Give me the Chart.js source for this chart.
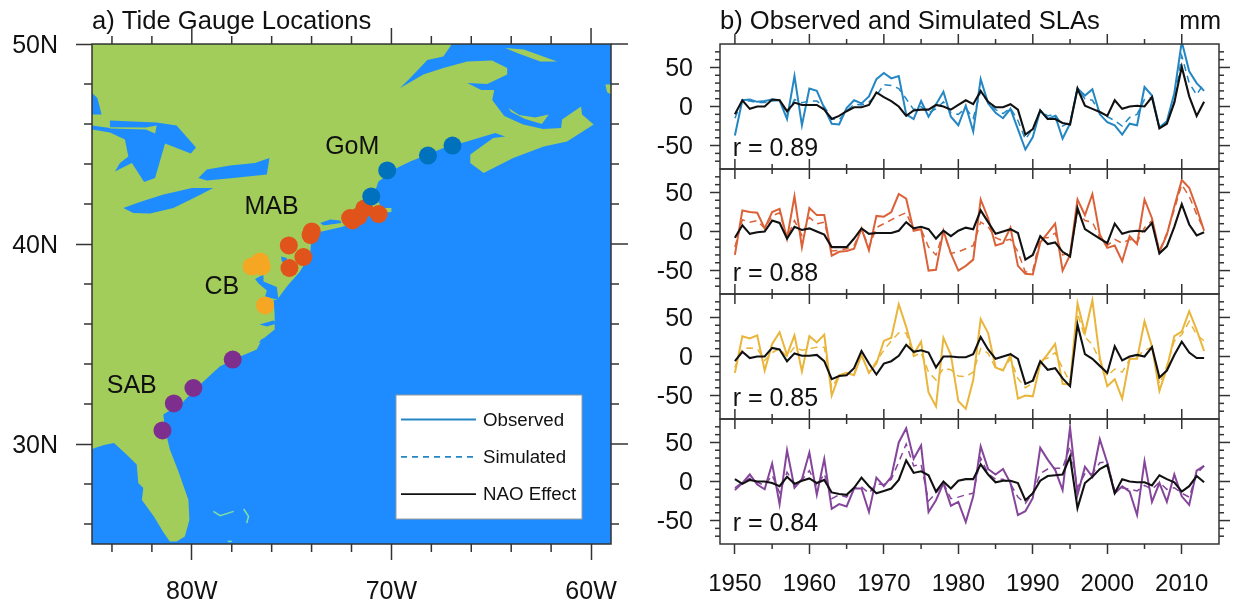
<!DOCTYPE html>
<html>
<head>
<meta charset="utf-8">
<title>Tide gauges and SLAs</title>
<script src="https://cdn.jsdelivr.net/npm/chart.js@4"></script>
<style>
    html, body { margin: 0; background: #fff; }
    canvas { position: absolute; top: 0; }
    #mapChart { left: 0; }
    #slaChart { left: 640px; }
</style>
</head>
<body>
<canvas id="mapChart" width="640" height="604"></canvas>
<canvas id="slaChart" width="593" height="604"></canvas>
<script>
// map outlines, [lon, lat]
const landCoast = [[-85,29.75],[-84.4,29.95],[-83.9,30.05],[-83.35,29.55],[-82.76,28.97],[-82.68,28.05],[-82.43,27.8],[-82.5,27.2],[-81.9,26.38],[-81.4,25.55],[-81.1,25.13],[-80.76,25.13],[-80.35,25.38],[-80.12,26.2],[-80.17,27.2],[-80.67,28.63],[-81.1,29.72],[-81.34,30.72],[-81.43,31.47],[-80.5,32.05],[-79.42,33.13],[-78.6,33.88],[-77.58,34.38],[-76.75,34.72],[-76.5,35.2],[-75.85,35.72],[-75.85,36.47],[-75.9,37.2],[-75.74,37.2],[-75.24,37.88],[-74.6,38.6],[-74.07,39.45],[-74,40.5],[-73.6,40.6],[-72.5,40.85],[-71.9,41.05],[-71,41.45],[-70.6,41.55],[-70,41.6],[-70,41.8],[-70.5,41.8],[-70.7,42.2],[-70.8,42.7],[-70.65,43.13],[-69.73,43.8],[-69.06,44.13],[-67.39,44.8],[-66.22,45.13],[-64.8,45.55],[-64.3,45.38],[-64.9,45.3],[-66.05,44.47],[-66.05,44.05],[-65.38,43.55],[-63.9,44.3],[-62.37,44.87],[-61.2,45.13],[-59.87,45.97],[-60.45,46.47],[-60.5,46.88],[-61.45,46.22],[-61.5,45.8],[-62.4,45.75],[-63.4,45.97],[-64.35,46.4],[-64.95,47.2],[-64.85,47.7],[-65.5,47.7],[-66.2,48.05],[-65.2,48],[-64.2,48.47],[-64.2,48.8],[-64.96,49.18],[-66.2,49.13],[-67.4,48.8],[-68.4,48.47],[-69.56,47.8],[-71.06,46.85],[-70.4,46.97],[-69.06,48.3],[-68.2,49.2],[-67.4,49.38],[-66.97,50],[-85,50]];
const islands = [
    [[-84.1,45.84],[-82.3,45.82],[-81.76,45.92],[-81.84,45.52],[-82.3,45.72],[-84.1,45.78]],
    [[-64.13,46.8],[-63.6,46.45],[-62.8,46.32],[-62.12,46.47],[-62.46,46],[-63.3,46.25],[-64,46.6]],
    [[-64.3,49.8],[-63.37,49.72],[-61.7,49.13],[-62.54,49.13],[-63.7,49.55]],
    [[-59.28,47.97],[-59,47.97],[-59,47.47],[-59.2,47.6]],
    [[-73.55,40.75],[-72.4,40.95],[-72.3,41.05],[-73.5,40.9]]
];
const waters = [
    [[-85,47.55],[-84.73,47.3],[-84.52,46.47],[-85,46.47]],
    [[-84.1,46.18],[-81.76,46.08],[-80.76,45.92],[-79.79,44.83],[-80.05,44.52],[-81.34,45.02],[-81.84,43.3],[-82.39,43.1],[-83,44.05],[-83.85,43.63],[-83.6,44.05],[-83.18,44.38],[-83.35,45.22],[-84.1,45.58],[-85,45.72],[-85,45.92],[-84.1,45.8]],
    [[-83.43,41.8],[-82.6,42.1],[-81.42,42.47],[-80.75,42.63],[-80,42.8],[-78.92,42.8],[-79.75,42.38],[-80.92,41.8],[-82.09,41.52],[-82.93,41.55]],
    [[-79.67,43.3],[-79.25,43.72],[-78.08,43.92],[-76.83,44.05],[-76.11,44.3],[-76.24,43.47],[-77.92,43.3],[-79.25,43.18]],
    [[-76.83,38.25],[-76.41,38.47],[-76.41,38.13],[-75.74,37.85],[-75.66,37.2],[-76.33,37.38],[-76.24,37.68],[-76.66,38.03]],
    [[-75.53,39.38],[-75.24,39.3],[-75.24,39.05],[-75.49,39.13]],
    [[-76.61,35.97],[-75.91,36.18],[-75.74,36.02],[-76.24,35.88]],
    [[-76.66,35.05],[-75.99,35.35],[-76.5,35.25]],
    [[-73.57,41.05],[-73.07,41.22],[-72.57,41.18],[-72.5,41.05],[-73.4,40.93]]
];
const bahamas = [
    [[-78.92,26.63],[-78.58,26.42],[-77.9,26.63]],
    [[-77.4,26.75],[-77.16,26.38],[-77.25,26.05]],
    [[-78.2,25.13],[-78,25.13]]
];

// tide gauges
const gaugesGoM = [[-66.94,44.92],[-68.17,44.42],[-70.21,43.68],[-71.01,42.38]];
const gaugesMAB = [[-70.64,41.5],[-71.36,41.77],[-71.95,41.18],[-72.07,41.3],[-71.65,41.38],[-73.99,40.63],[-74.05,40.45],[-75.14,39.93],[-74.41,39.35],[-75.11,38.8]];
const gaugesCB = [[-76.58,39.13],[-77,38.88],[-76.5,38.88],[-76.33,36.93]];
const gaugesSAB = [[-77.95,34.22],[-79.92,32.8],[-80.9,32.03],[-81.47,30.68]];
const regionLabels = [['GoM',-73.32,44.97],['MAB',-77.36,41.97],['CB',-79.37,37.97],['SAB',-84.26,32.97]];

const lonMajor = [-80, -70, -60];
const lonMinor = [-84, -82, -78, -76, -74, -72, -68, -66, -64, -62];
const latMajor = [30, 40, 50];
const latMinor = [26, 28, 32, 34, 36, 38, 42, 44, 46, 48];

// SLA series, mm
const years = [1950,1951,1952,1953,1954,1955,1956,1957,1958,1959,1960,1961,1962,1963,1964,1965,1966,1967,1968,1969,1970,1971,1972,1973,1974,1975,1976,1977,1978,1979,1980,1981,1982,1983,1984,1985,1986,1987,1988,1989,1990,1991,1992,1993,1994,1995,1996,1997,1998,1999,2000,2001,2002,2003,2004,2005,2006,2007,2008,2009,2010,2011,2012,2013];

const obsGoM = [-37,8,9,6,7,9,8,-16,39,-24,23,20,-2,-22,-23,-2,8,4,13,35,43,36,39,-10,-16,7,-13,2.5,19,-13,-24,1,-32,35,4,-8,-15,-3,-29,-55,-39,-5,-16,-12,-41,-22,23,14,22,-10,-20,-24,-36,-22,-24,25,14,-27,-19,17,83,45,30,20];
const simGoM = [-15,7,7,5,5,7,8,-10,9,5,7,7,0,-16,-17,-6,3,2,6,14,28,27,23,10,-4,0,-8,-3,6,-8,-10,-2,-15,20,5,-4,-9,-2,-18,-42,-28,-5,-12,-10,-25,-20,22,10,8,-7,-13,-18,-25,-14,-10,9,12,-27,-19,5,65,30,15,30];
const naoGoM = [-10,8,-3,0,0,9,8,-6,5,2,2,2,-4,-16,-12,-6,-1,-1,2,18,12,7,0,-12,-5,-4,-4,2,0,-4,2,8,3,20,6,-1,-1,3,-4,-36,-29,-5,-16,-16,-21,-23,23,1,-3,-7,-12,8,-3,0,1,0,12,-28,-22,5,51,13,-12,6];

const obsMAB = [-30,27,25,24,4,25,29,-9,45,-20,30,21,21,-31,-26,-25,-22,4,-24,20,19,25,48,42,1,3,-50,-49,1,-28,-50,-44,-36,41,17,-18,-15,5,-44,-54,-55,-14,-2,10,-50,-30,41,21,48,-4,-21,-18,-38,-6,-16,41,17,-26,-4,32,66,56,30,1];
const simMAB = [-20,15,12,14,4,20,24,-8,14,-5,18,10,12,-25,-24,-22,-18,3,-20,5,10,15,20,24,2,3,-20,-30,-1,-28,-26,-22,-18,12,6,-8,-12,-10,-26,-52,-50,-8,-8,-2,-30,-28,25,14,12,-8,-18,-10,-15,-10,-14,5,14,-25,-2,28,60,45,22,2];
const naoMAB = [-8,8,-3,-1,0,14,11,-9,6,2,4,0,-4,-20,-20,-20,-9,4,-3,-2,-2,-2,1,12,4,6,3,-9,1,-6,1,5,3,27,12,-3,0,3,-2,-36,-30,-6,-16,-14,-26,-32,30,3,-3,-9,-15,10,-3,0,1,0,11,-28,-19,6,35,9,-5,-1];

const obsCB = [-21,26,23,27,-18,16,31,2,27,-19,26,18,28,-50,-24,-21,-24,2,-21,-9,20,24,67,38,3,19,-46,-64,24,2,-57,-67,-30,48,30,-14,-18,2,-54,-50,-51,-9,3,16,-35,-36,68,30,72,-2,-38,-29,-54,-3,-3,45,13,-44,-15,26,32,58,34,7];
const simCB = [-14,10,11,10,-5,5,10,0,12,8,10,12,12,-40,-24,-22,-22,2,-21,-6,8,20,30,30,0,5,-20,-30,-15,-17,-25,-26,-20,10,4,-15,-17,-3,-28,-40,-34,-5,-2,5,-15,-33,55,25,15,-5,-25,-16,-20,-4,0,8,12,-35,-12,20,28,45,28,20];
const naoCB = [-6,6,-2,0,0,11,9,-6,4,1,1,2,-6,-29,-25,-24,-15,7,-9,-23,-9,-6,1,15,6,8,5,-14,0,0,-1,-1,3,25,9,-3,0,3,-3,-35,-31,-6,-17,-15,-28,-38,41,3,-3,-12,-21,13,-5,0,2,0,12,-27,-18,2,19,5,-2,-2];

const obsSAB = [-11,-2,9,-4,-10,23,-29,40,-8,3,37,-17,29,-35,-29,-32,-9,-9,-39,5,-6,6,50,68,29,46,-39,-24,-2,-31,-26,-52,-19,45,16,9,16,-2,-43,-38,-21,43,28,15,-11,69,-17,19,6,54,24,-15,-6,-13,-43,26,-26,-2,-26,9,-19,-30,14,20];
const simSAB = [-8,-1,4,-1,-5,8,-14,12,-4,2,14,-6,10,-22,-17,-20,-8,-7,-15,-3,-4,3,25,48,20,22,-25,-15,-2,-22,-20,-17,-15,30,10,3,3,-3,-20,-28,-15,10,16,17,17,45,-8,10,10,24,25,-12,-8,-10,-12,-5,-10,-1,-10,-8,-15,-20,10,20];
const naoSAB = [3,-3,2,0,0,-2,-6,6,-3,1,4,-2,2,-14,-16,-17,-8,5,-6,-15,-12,-9,2,27,11,13,8,-13,0,-9,1,3,3,22,9,-1,1,1,-2,-24,-15,1,7,8,9,32,-34,-2,6,16,21,-15,3,0,-1,-1,-5,8,3,-1,-13,-6,7,-1];

const correlations = ['r = 0.89', 'r = 0.88', 'r = 0.85', 'r = 0.84'];
const yearMajor = [1950, 1960, 1970, 1980, 1990, 2000, 2010];
const yearMinor = [1955, 1965, 1975, 1985, 1995, 2005];
const slaMajor = [-50, 0, 50];
const slaMinor = [-70, -60, -40, -30, -20, -10, 10, 20, 30, 40, 60, 70];

const OCEAN = '#1E8CFF', LAND = '#A2CD5A', INK = '#333';
const BLUE = '#0072BD', ORANGE = '#E0531B', YELLOW = '#F5A623', PURPLE = '#7E2F8E';
const LINE_BLUE = '#2486C2', LINE_ORANGE = '#DB6238', LINE_YELLOW = '#E9B53A', LINE_PURPLE = '#84459A';

Chart.defaults.font.family = '"Liberation Sans", Arial, sans-serif';
Chart.defaults.color = '#111';
Chart.defaults.animation = false;

const toXY = pts => pts.map(p => ({ x: p[0], y: p[1] }));

function shape(pts, color, order) {
    return { data: toXY(pts), showLine: true, fill: 'shape', backgroundColor: color, borderColor: color, borderWidth: 0, pointRadius: 0, order: order };
}
function dots(pts, color) {
    return { data: toXY(pts), backgroundColor: color, borderWidth: 0, pointRadius: 9, order: 1 };
}

function tick(ctx, x0, y0, x1, y1) {
    ctx.beginPath();
    ctx.moveTo(x0, y0);
    ctx.lineTo(x1, y1);
    ctx.stroke();
}

const mapExtras = {
    id: 'mapExtras',
    beforeDraw(chart) {
        const a = chart.chartArea;
        chart.ctx.fillStyle = OCEAN;
        chart.ctx.fillRect(a.left, a.top, a.right - a.left, a.bottom - a.top);
    },
    afterDraw(chart) {
        const ctx = chart.ctx, a = chart.chartArea, sx = chart.scales.x, sy = chart.scales.y;
        ctx.save();
        ctx.strokeStyle = INK;
        ctx.lineWidth = 1.5;
        ctx.strokeRect(a.left, a.top, a.right - a.left, a.bottom - a.top);
        lonMajor.forEach(v => tick(ctx, sx.getPixelForValue(v), a.top, sx.getPixelForValue(v), a.top - 16));
        latMajor.forEach(v => tick(ctx, a.right, sy.getPixelForValue(v), a.right + 17, sy.getPixelForValue(v)));
        lonMinor.forEach(v => {
            const x = sx.getPixelForValue(v);
            tick(ctx, x, a.top, x, a.top - 8);
            tick(ctx, x, a.bottom, x, a.bottom + 8);
        });
        latMinor.forEach(v => {
            const y = sy.getPixelForValue(v);
            tick(ctx, a.left, y, a.left - 8, y);
            tick(ctx, a.right, y, a.right + 8, y);
        });

        ctx.fillStyle = '#111';
        ctx.font = '25px "Liberation Sans"';
        ctx.textAlign = 'left';
        ctx.textBaseline = 'middle';
        regionLabels.forEach(r => ctx.fillText(r[0], sx.getPixelForValue(r[1]), sy.getPixelForValue(r[2]) + 2));

        // legend box
        const bx = a.left + 304, by = a.top + 351;
        ctx.fillStyle = '#fff';
        ctx.fillRect(bx, by, 186, 124);
        ctx.strokeStyle = '#999';
        ctx.lineWidth = 1;
        ctx.strokeRect(bx, by, 186, 124);
        const rows = [['Observed', LINE_BLUE, []], ['Simulated', LINE_BLUE, [6, 5]], ['NAO Effect', '#111', []]];
        ctx.font = '18.7px "Liberation Sans"';
        rows.forEach((r, i) => {
            const y = by + 24.5 + i * 37.3;
            ctx.strokeStyle = r[1];
            ctx.lineWidth = 1.8;
            ctx.setLineDash(r[2]);
            tick(ctx, bx + 5, y, bx + 80, y);
            ctx.fillStyle = '#111';
            ctx.fillText(r[0], bx + 87, y + 1);
        });
        ctx.restore();
    }
};

const landDatasets = [shape(landCoast, LAND, 5)]
    .concat(waters.map(w => shape(w, OCEAN, 4)))
    .concat(islands.map(w => shape(w, LAND, 3)))
    .concat(bahamas.map(b => ({ data: toXY(b), showLine: true, borderColor: '#7FE0A0', borderWidth: 1.5, pointRadius: 0, order: 3 })))
    .concat([dots(gaugesGoM, BLUE), dots(gaugesMAB, ORANGE), dots(gaugesCB, YELLOW), dots(gaugesSAB, PURPLE)]);

new Chart(document.getElementById('mapChart'), {
    type: 'scatter',
    data: { datasets: landDatasets },
    plugins: [mapExtras],
    options: {
        responsive: false,
        events: [],
        layout: { padding: { right: 29 } },
        plugins: {
            legend: { display: false },
            tooltip: { enabled: false },
            title: {
                display: true,
                text: 'a) Tide Gauge Locations',
                align: 'start',
                fullSize: false,
                font: { size: 25.6, weight: 'normal' },
                padding: { top: 7, bottom: 6.3 }
            }
        },
        scales: {
            x: {
                min: -85, max: -59,
                afterBuildTicks: s => { s.ticks = lonMajor.map(v => ({ value: v })); },
                afterFit: s => { s.height = 60; },
                border: { display: false },
                grid: { drawOnChartArea: false, tickLength: 16, tickColor: INK, tickWidth: 1.5 },
                ticks: { font: { size: 25 }, padding: 17, maxRotation: 0, autoSkip: false, callback: v => Math.abs(v) + 'W' }
            },
            y: {
                min: 25, max: 50,
                afterBuildTicks: s => { s.ticks = latMajor.map(v => ({ value: v })); },
                afterFit: s => { s.width = 92; },
                border: { display: false },
                grid: { drawOnChartArea: false, tickLength: 16, tickColor: INK, tickWidth: 1.5 },
                ticks: { font: { size: 25 }, padding: 18, labelOffset: 2, autoSkip: false, callback: v => v + 'N' }
            }
        }
    }
});

// right-hand panels, one y scale per region, stacked top to bottom
const regions = [
    { id: 'y1', color: LINE_BLUE, obs: obsGoM, sim: simGoM, nao: naoGoM },
    { id: 'y2', color: LINE_ORANGE, obs: obsMAB, sim: simMAB, nao: naoMAB },
    { id: 'y3', color: LINE_YELLOW, obs: obsCB, sim: simCB, nao: naoCB },
    { id: 'y4', color: LINE_PURPLE, obs: obsSAB, sim: simSAB, nao: naoSAB }
];

const series = vals => vals.map((v, i) => ({ x: years[i], y: v }));

const slaDatasets = [];
regions.forEach(r => {
    slaDatasets.push({ label: 'Observed', data: series(r.obs), yAxisID: r.id, borderColor: r.color, borderWidth: 2, pointRadius: 0, tension: 0, order: 3 });
    slaDatasets.push({ label: 'Simulated', data: series(r.sim), yAxisID: r.id, borderColor: r.color, borderWidth: 1.5, borderDash: [7, 5], pointRadius: 0, tension: 0, order: 2 });
    slaDatasets.push({ label: 'NAO Effect', data: series(r.nao), yAxisID: r.id, borderColor: '#111', borderWidth: 2.1, pointRadius: 0, tension: 0, order: 1 });
});

const slaScales = {
    x: {
        type: 'linear',
        min: 1948, max: 2015,
        afterBuildTicks: s => { s.ticks = yearMajor.map(v => ({ value: v })); },
        afterFit: s => { s.height = 60; },
        border: { display: false },
        grid: { drawOnChartArea: false, tickLength: 10, tickColor: INK, tickWidth: 1.5 },
        ticks: { font: { size: 24 }, padding: 16, maxRotation: 0, autoSkip: false, callback: v => String(v) }
    }
};
// the layout stacks left axes last-listed first, so list them bottom panel up
regions.slice().reverse().forEach(r => {
    slaScales[r.id] = {
        min: -80, max: 80,
        position: 'left',
        stack: 'sla',
        stackWeight: 1,
        afterBuildTicks: s => { s.ticks = slaMajor.map(v => ({ value: v })); },
        afterFit: s => { s.width = 80; },
        border: { display: false },
        grid: { drawOnChartArea: false, tickLength: 10, tickColor: INK, tickWidth: 1.5 },
        ticks: { font: { size: 25 }, padding: 17, labelOffset: 2, autoSkip: false, callback: v => String(v) }
    };
});

const slaExtras = {
    id: 'slaExtras',
    afterDraw(chart) {
        const ctx = chart.ctx, a = chart.chartArea, sx = chart.scales.x;
        ctx.save();
        ctx.strokeStyle = INK;
        ctx.lineWidth = 1.5;
        ctx.fillStyle = '#111';
        ctx.textAlign = 'left';
        ctx.textBaseline = 'middle';
        ctx.font = '25px "Liberation Sans"';
        regions.forEach((r, i) => {
            const sy = chart.scales[r.id];
            ctx.strokeRect(a.left, sy.top, a.right - a.left, sy.bottom - sy.top);
            yearMajor.forEach(v => {
                const x = sx.getPixelForValue(v);
                tick(ctx, x, sy.top, x, sy.top + (i === 0 ? -10 : 10));
                if (i < 3) tick(ctx, x, sy.bottom, x, sy.bottom - 10);
            });
            yearMinor.forEach(v => {
                const x = sx.getPixelForValue(v);
                tick(ctx, x, sy.top, x, sy.top + (i === 0 ? -5 : 5));
                tick(ctx, x, sy.bottom, x, sy.bottom + (i === 3 ? 5 : -5));
            });
            slaMajor.forEach(v => {
                const y = sy.getPixelForValue(v);
                tick(ctx, a.right, y, a.right + 11, y);
            });
            slaMinor.forEach(v => {
                const y = sy.getPixelForValue(v);
                tick(ctx, a.left, y, a.left - 5, y);
                tick(ctx, a.right, y, a.right + 5, y);
            });
            ctx.fillText(correlations[i], sx.getPixelForValue(1949.7), sy.getPixelForValue(-51) + 2.5);
        });
        ctx.textAlign = 'right';
        ctx.fillText('mm', a.right + 2, 22);
        ctx.restore();
    }
};

new Chart(document.getElementById('slaChart'), {
    type: 'line',
    data: { datasets: slaDatasets },
    plugins: [slaExtras],
    options: {
        responsive: false,
        events: [],
        layout: { padding: { right: 14 } },
        plugins: {
            legend: { display: false },
            tooltip: { enabled: false },
            title: {
                display: true,
                text: 'b) Observed and Simulated SLAs',
                align: 'start',
                fullSize: false,
                font: { size: 25.6, weight: 'normal' },
                padding: { top: 7, bottom: 6.3 }
            }
        },
        scales: slaScales
    }
});
</script>
</body>
</html>
